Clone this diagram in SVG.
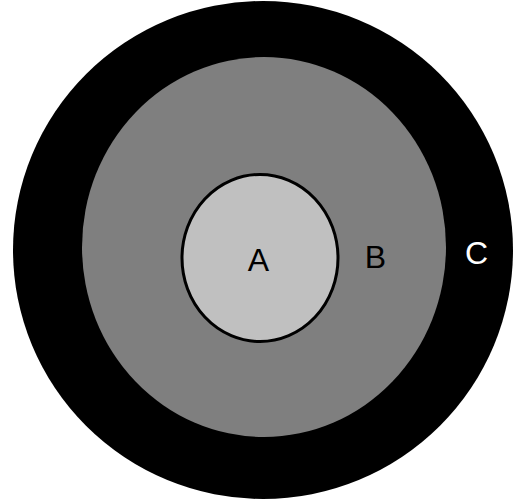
<svg xmlns="http://www.w3.org/2000/svg" width="528" height="502" viewBox="0 0 528 502">
<style>
.lbl{font-family:"Liberation Sans",Arial,sans-serif;font-size:32px;text-anchor:middle}
</style>
<rect width="528" height="502" fill="#ffffff"/>
<g id="C">
<ellipse cx="263" cy="250" rx="250" ry="249" fill="#000000"/>
<text class="lbl" x="476.5" y="264" fill="#ffffff">C</text>
</g>
<g id="B">
<ellipse cx="264" cy="247" rx="182" ry="190" fill="#7f7f7f"/>
<text class="lbl" x="375.5" y="268" fill="#000000">B</text>
</g>
<g id="A">
<ellipse cx="260" cy="258" rx="78" ry="83.5" fill="#c0c0c0" stroke="#000000" stroke-width="3"/>
<text class="lbl" x="258.5" y="271" fill="#000000">A</text>
</g>
<g id="connectors"/>
</svg>
